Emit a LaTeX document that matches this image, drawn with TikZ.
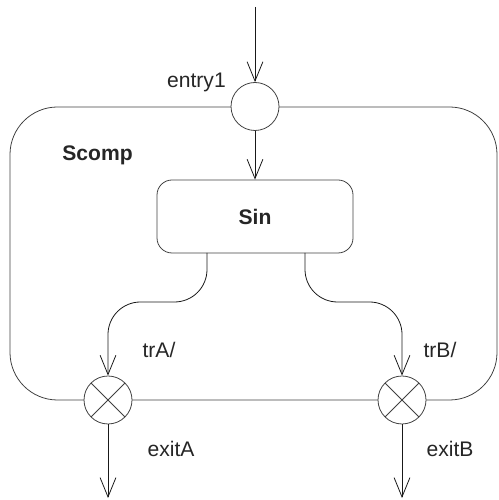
\documentclass[tikz,border=0pt]{standalone}
\usepackage{fontspec}
\setmainfont{Liberation Sans}
\usetikzlibrary{arrows.meta}
\tikzset{
  trans/.style={-{Straight Barb[length=11pt,width=9pt]}, black!90},
  pseudo/.style={circle, draw=black!75, fill=white, minimum size=0.96cm, inner sep=0pt},
  exitpt/.style={pseudo, path picture={
    \draw[black!75] (path picture bounding box.north west) -- (path picture bounding box.south east)
      (path picture bounding box.north east) -- (path picture bounding box.south west);}},
  lbl/.style={font=\fontsize{12}{14}\selectfont, text=black!85},
}
\begin{document}
\begin{tikzpicture}[line width=0.45pt]
\useasboundingbox (0,0) rectangle (9.96,10);
\node[draw=black!75, rounded corners=0.95cm, minimum width=9.74cm, minimum height=5.86cm] (scomp) at (5.07,4.93) {};
\node[pseudo] (entry) at (5.1,7.87) {};
\node[exitpt] (exitA) at (2.16,2.0) {};
\node[exitpt] (exitB) at (8.04,2.0) {};
\node[draw=black!75, rounded corners=0.3cm, minimum width=3.92cm, minimum height=1.46cm,
  lbl, font=\fontsize{12}{14}\selectfont\bfseries] (sin) at (5.1,5.67) {Sin};
\node[lbl, font=\fontsize{12}{14}\selectfont\bfseries] (scompname) at (1.95,6.9) {Scomp};
\node[lbl, anchor=east] (entryname) at (4.64,8.36) {entry1};
\node[lbl] (trA) at (3.18,3.0) {trA/};
\node[lbl] (trB) at (8.8,3.0) {trB/};
\node[lbl] (exitAname) at (3.42,1.02) {exitA};
\node[lbl] (exitBname) at (9.0,1.02) {exitB};
\coordinate (start) at (5.1,9.86);
\coordinate (outA) at (4.14,4.94);
\coordinate (outB) at (6.1,4.94);
\coordinate (endA) at (2.16,0.04);
\coordinate (endB) at (8.04,0.04);
\draw[trans] (start) -- (entry);
\draw[trans] (entry) -- (sin);
\draw[trans, rounded corners=0.65cm] (outA) -- (4.14,3.96) -| (exitA.north);
\draw[trans, rounded corners=0.65cm] (outB) -- (6.1,3.96) -| (exitB.north);
\draw[trans] (exitA) -- (endA);
\draw[trans] (exitB) -- (endB);
\end{tikzpicture}
\end{document}
